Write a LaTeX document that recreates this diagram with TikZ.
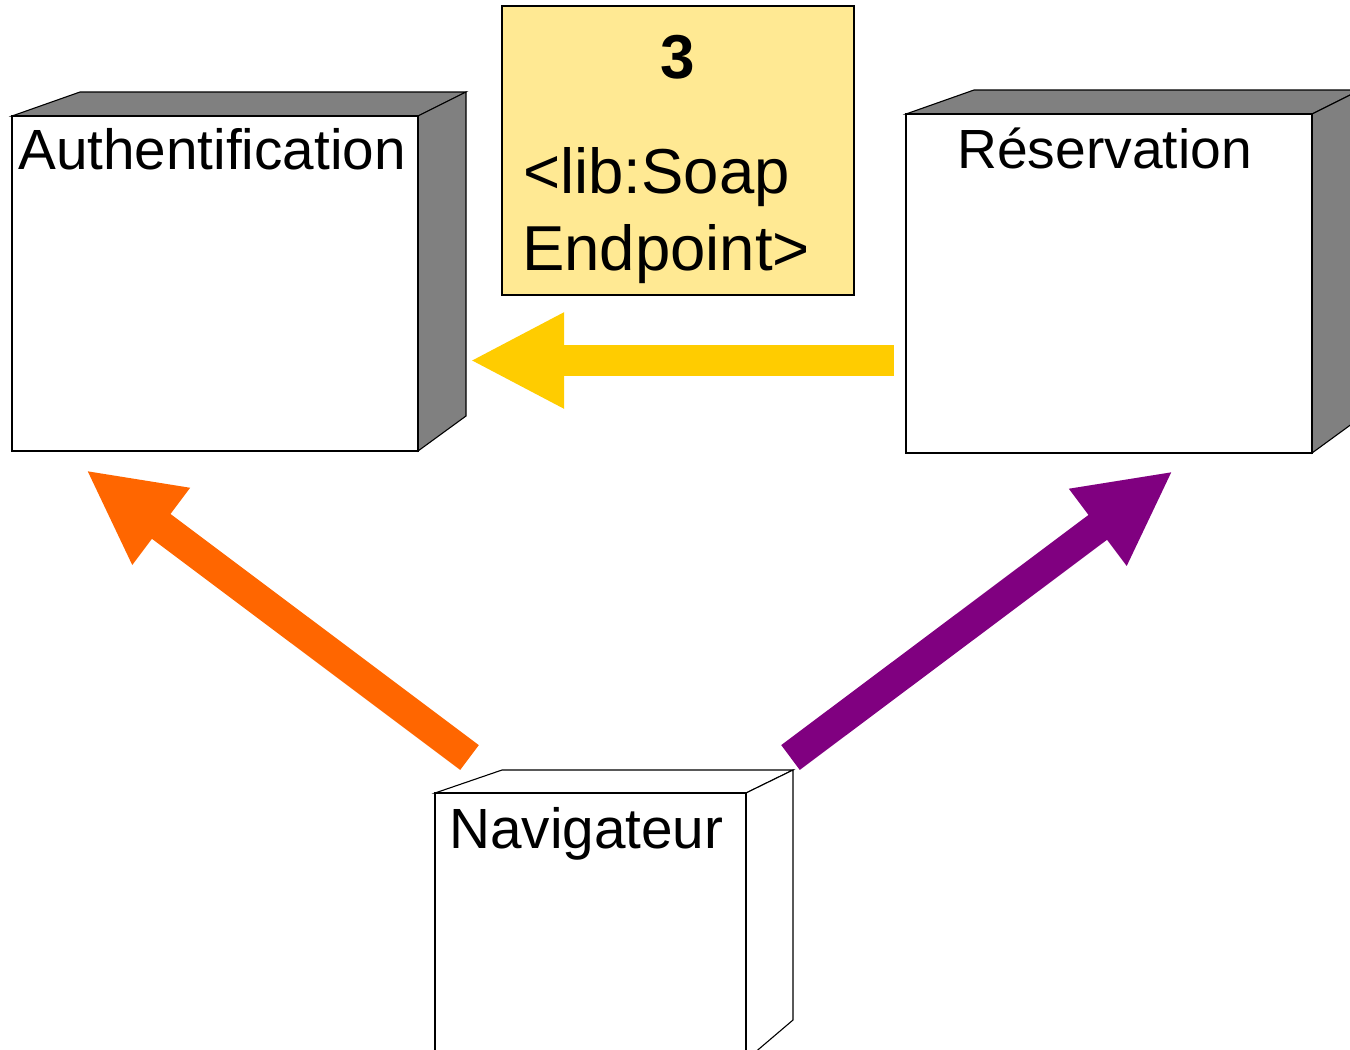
\documentclass[tikz,border=0pt]{standalone}
\usepackage{fontspec}
\setmainfont{Liberation Sans}
\usetikzlibrary{arrows.meta}
\definecolor{sidegray}{HTML}{808080}
\definecolor{notefill}{HTML}{FFE993}
\definecolor{arrYellow}{HTML}{FFCC00}
\definecolor{arrOrange}{HTML}{FF6600}
\definecolor{arrPurple}{HTML}{800080}
\tikzset{
  face/.style={draw=black, line width=1.1pt, line join=miter},
  frontface/.style={face, fill=white},
  sideface/.style={face, fill=sidegray},
  boxlabel/.style={anchor=base west, inner sep=0pt, font=\fontsize{56.7}{60}\selectfont},
  notetext/.style={anchor=base west, inner sep=0pt, font=\fontsize{63.5}{66}\selectfont},
  bigarrow/.style={line width=31pt, -{Triangle[length=94pt,width=89pt]}},
}
\begin{document}
\begin{tikzpicture}[x=1pt, y=-1pt]
\useasboundingbox (0,0) rectangle (1350,1050);
\clip (0,0) rectangle (1350,1050);

% Authentification box
\draw[sideface] (12,116) -- (80,92) -- (466,92) -- (418,116) -- cycle;
\draw[sideface] (418,116) -- (466,92) -- (466,416) -- (418,451) -- cycle;
\draw[frontface] (12,116) rectangle (418,451);
\node[boxlabel] (auth) at (18,169) {Authentification};

% Reservation box
\draw[sideface] (906,114) -- (974,90) -- (1360,90) -- (1312,114) -- cycle;
\draw[sideface] (1312,114) -- (1360,90) -- (1360,418) -- (1312,453) -- cycle;
\draw[frontface] (906,114) rectangle (1312,453);
\node[boxlabel, font=\fontsize{55.2}{58}\selectfont] (resa) at (957,168) {Réservation};

% Navigateur box
\draw[frontface] (435,793) -- (502,770) -- (793,770) -- (746,793) -- cycle;
\draw[frontface] (746,793) -- (793,770) -- (793,1020) -- (746,1060) -- cycle;
\draw[frontface] (435,793) rectangle (746,1070);
\node[boxlabel] (nav) at (449,848) {Navigateur};

% Note
\draw[fill=notefill, draw=black, line width=2pt] (502,6) rectangle (854,295);
\node[anchor=base, inner sep=0pt, font=\fontsize{62}{66}\selectfont\bfseries] (num) at (678,78) {3};
\node[notetext] (lib1) at (523,193) {<lib:Soap};
\node[notetext] (lib2) at (522,270) {Endpoint>};

% Connector end points
\coordinate (resaOut) at (894,360.5);
\coordinate (authInR) at (470,360.5);
\coordinate (navOutL) at (469.5,757.5);
\coordinate (authInB) at (86,470);
\coordinate (navOutR) at (790.5,757.5);
\coordinate (resaInB) at (1173,471);

\draw[bigarrow, arrYellow] (resaOut) -- (authInR);
\draw[bigarrow, arrOrange] (navOutL) -- (authInB);
\draw[bigarrow, arrPurple] (navOutR) -- (resaInB);
\end{tikzpicture}
\end{document}
